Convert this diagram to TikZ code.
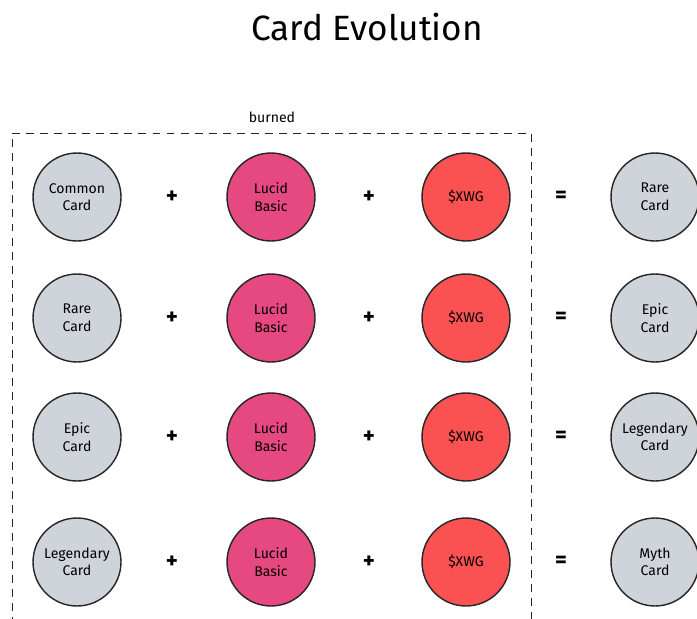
\documentclass[tikz,border=0pt]{standalone}
\usepackage{fontspec}
\setmainfont{Fira Sans}
\usetikzlibrary{positioning}

\definecolor{cardgray}{HTML}{CED4DA}
\definecolor{lucidpink}{HTML}{E64980}
\definecolor{xwgred}{HTML}{FA5252}

\tikzset{
  token/.style={circle, draw=black!85, line width=0.8pt, minimum size=1.76cm,
    inner sep=0pt, align=center, font=\fontsize{8}{10}\selectfont},
  card/.style={token, fill=cardgray},
  lucid/.style={token, fill=lucidpink},
  xwg/.style={token, fill=xwgred},
  op/.style={font=\fontsize{13}{13}\selectfont\bfseries, inner sep=1pt}
}

\begin{document}
\begin{tikzpicture}[x=0.02cm, y=-0.02cm]
    \useasboundingbox (0, 0) rectangle (697, 619);

    \node[font=\fontsize{20}{24}\selectfont] (title) at (367, 27) {Card Evolution};
    \node[font=\fontsize{8}{10}\selectfont] (burned) at (272, 117) {burned};

    % burned area, open at the bottom
    \coordinate (boxBL) at (12, 625);
    \coordinate (boxTL) at (12, 133);
    \coordinate (boxTR) at (531, 133);
    \coordinate (boxBR) at (531, 625);
    \draw[dash pattern=on 4.5pt off 3.5pt, line width=0.5pt, black!85]
      (boxBL) -- (boxTL) -- (boxTR) -- (boxBR);

    \foreach \r/\y/\src/\dst in {1/197/Common\\Card/Rare\\Card,
                                 2/318/Rare\\Card/Epic\\Card,
                                 3/437/Epic\\Card/Legendary\\Card,
                                 4/562/Legendary\\Card/Myth\\Card} {
      \node[card] (in\r) at (77, \y) {\src};
      \node[op] (plusA\r) at (172, \y) {+};
      \node[lucid] (lucid\r) at (271, \y) {Lucid\\Basic};
      \node[op] (plusB\r) at (369, \y) {+};
      \node[xwg] (xwg\r) at (466, \y) {\$XWG};
      \node[op] (eq\r) at (561, \y) {=};
      \node[card] (out\r) at (655, \y) {\dst};
    }
\end{tikzpicture}
\end{document}
